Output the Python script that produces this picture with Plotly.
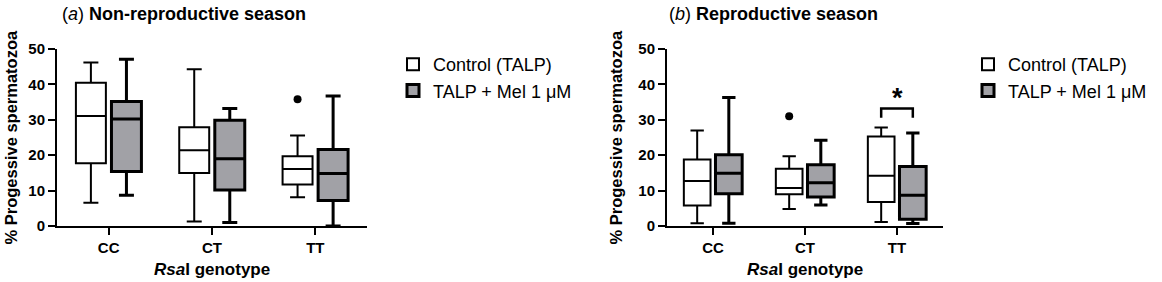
import plotly.graph_objects as go

W, H = 1162, 282
FONT = "Liberation Sans, Arial, sans-serif"

categories = ["CC", "CT", "TT"]
series_names = ["Control (TALP)", "TALP + Mel 1 \u03bcM"]

# Panel (a) Non-reproductive season
a_ctrl_low = [6.6, 1.3, 8.1]
a_ctrl_q1 = [17.7, 15.0, 11.7]
a_ctrl_med = [31.1, 21.4, 16.1]
a_ctrl_q3 = [40.5, 27.9, 19.7]
a_ctrl_high = [46.2, 44.3, 25.6]
a_ctrl_out = [[], [], [35.8]]

a_mel_low = [8.7, 1.0, 0.0]
a_mel_q1 = [15.4, 10.2, 7.2]
a_mel_med = [30.2, 19.0, 14.8]
a_mel_q3 = [35.2, 29.9, 21.6]
a_mel_high = [47.1, 33.2, 36.7]
a_mel_out = [[], [], []]

# Panel (b) Reproductive season
b_ctrl_low = [0.8, 4.8, 1.1]
b_ctrl_q1 = [5.8, 9.0, 6.8]
b_ctrl_med = [12.7, 10.7, 14.2]
b_ctrl_q3 = [18.8, 16.2, 25.3]
b_ctrl_high = [27.0, 19.7, 27.8]
b_ctrl_out = [[], [31.0], []]

b_mel_low = [0.8, 5.9, 0.7]
b_mel_q1 = [9.1, 8.2, 1.9]
b_mel_med = [14.9, 12.2, 8.7]
b_mel_q3 = [20.1, 17.3, 16.8]
b_mel_high = [36.3, 24.2, 26.3]
b_mel_out = [[], [], []]

# significance bracket (panel b, TT)
sig_cat = 2
sig_top = 33.2
sig_leg = 30.6
sig_star_y = 36.3

OFFSET = 0.172
BOXW = 0.29
GREY = "#a1a1a6"

fig = go.Figure()


def add_panel(xa, ya, legend, ctrl, mel, ctrl_out, mel_out, showleg):
    for k, (stats, outs, fill, lw, off) in enumerate([
        (ctrl, ctrl_out, "white", 2, -OFFSET),
        (mel, mel_out, GREY, 3, OFFSET),
    ]):
        low, q1, med, q3, high = stats
        xs = [i + off for i in range(len(categories))]
        fig.add_trace(go.Box(
            x=xs, q1=q1, median=med, q3=q3, lowerfence=low, upperfence=high,
            width=BOXW, whiskerwidth=0.5, fillcolor=fill,
            line=dict(color="black", width=lw), boxpoints=False,
            name=series_names[k], legend=legend, showlegend=showleg,
            xaxis=xa, yaxis=ya, hoverinfo="skip",
        ))
        ox, oy = [], []
        for i, vals in enumerate(outs):
            for v in vals:
                ox.append(i + off)
                oy.append(v)
        if ox:
            fig.add_trace(go.Scatter(
                x=ox, y=oy, mode="markers", showlegend=False,
                marker=dict(color="black", size=8, symbol="circle"),
                xaxis=xa, yaxis=ya, hoverinfo="skip",
            ))


add_panel("x", "y", "legend",
          (a_ctrl_low, a_ctrl_q1, a_ctrl_med, a_ctrl_q3, a_ctrl_high),
          (a_mel_low, a_mel_q1, a_mel_med, a_mel_q3, a_mel_high),
          a_ctrl_out, a_mel_out, True)
add_panel("x2", "y2", "legend2",
          (b_ctrl_low, b_ctrl_q1, b_ctrl_med, b_ctrl_q3, b_ctrl_high),
          (b_mel_low, b_mel_q1, b_mel_med, b_mel_q3, b_mel_high),
          b_ctrl_out, b_mel_out, True)

# bracket
fig.add_trace(go.Scatter(
    x=[sig_cat - OFFSET, sig_cat - OFFSET, sig_cat + OFFSET, sig_cat + OFFSET],
    y=[sig_leg, sig_top, sig_top, sig_leg], mode="lines",
    line=dict(color="black", width=2.5), showlegend=False,
    xaxis="x2", yaxis="y2", hoverinfo="skip",
))

axis_common = dict(
    showline=True, linecolor="black", linewidth=2,
    ticks="outside", ticklen=7, tickwidth=2, tickcolor="black",
    showgrid=False, zeroline=False,
    tickfont=dict(family=FONT, size=15, color="black", weight="bold"),
)

# pixel positions of the plot area
top_px, bot_px = 49, 226
plot_h = bot_px - top_px


def px_x(p):
    return p / W


def px_y(p):
    return (bot_px - p) / plot_h


fig.update_layout(
    width=W, height=H,
    margin=dict(l=0, r=0, t=top_px, b=H - bot_px),
    paper_bgcolor="white", plot_bgcolor="white",
    xaxis=dict(domain=[px_x(57), px_x(367)], range=[-0.5, 2.5],
               tickvals=[0, 1, 2], ticktext=categories, anchor="y", **axis_common),
    yaxis=dict(domain=[0, 1], range=[0, 50], dtick=10, anchor="x", **axis_common),
    xaxis2=dict(domain=[px_x(667), px_x(943)], range=[-0.5, 2.5],
                tickvals=[0, 1, 2], ticktext=categories, anchor="y2", **axis_common),
    yaxis2=dict(domain=[0, 1], range=[0, 50], dtick=10, anchor="x2", **axis_common),
    legend=dict(x=px_x(393), xanchor="left", y=px_y(46), yanchor="top",
                font=dict(family=FONT, size=18, color="black"),
                bgcolor="rgba(0,0,0,0)"),
    legend2=dict(x=px_x(968), xanchor="left", y=px_y(46), yanchor="top",
                 font=dict(family=FONT, size=18, color="black"),
                 bgcolor="rgba(0,0,0,0)"),
    showlegend=True,
)

ann = []
for xt, ttl, ytx, xtx in [
    (60, "(<i>a</i>) <b>Non-reproductive season</b>", 10, 212),
    (667, "(<i>b</i>) <b>Reproductive season</b>", 615, 805),
]:
    ann.append(dict(x=px_x(xt), y=px_y(14), xref="paper", yref="paper",
                    xanchor="left", yanchor="middle", text=ttl, showarrow=False,
                    font=dict(family=FONT, size=18, color="black")))
    ann.append(dict(x=px_x(ytx), y=0.5, xref="paper", yref="paper",
                    xanchor="center", yanchor="middle", textangle=-90,
                    text="<b>% Progessive spermatozoa</b>", showarrow=False,
                    font=dict(family=FONT, size=16.5, color="black")))
    ann.append(dict(x=px_x(xtx), y=px_y(269), xref="paper", yref="paper",
                    xanchor="center", yanchor="middle",
                    text="<b><i>Rsa</i>I genotype</b>", showarrow=False,
                    font=dict(family=FONT, size=17, color="black")))
ann.append(dict(x=sig_cat, y=sig_star_y, xref="x2", yref="y2",
                xanchor="center", yanchor="middle", text="<b>*</b>",
                showarrow=False, font=dict(family=FONT, size=27, color="black")))
fig.update_layout(annotations=ann)

# remove the browser's default 8px body margin so the figure fills the window
fig.write_html("out.html",
               config={"displayModeBar": False},
               post_script="document.body.style.margin='0';document.body.style.overflow='hidden';")
